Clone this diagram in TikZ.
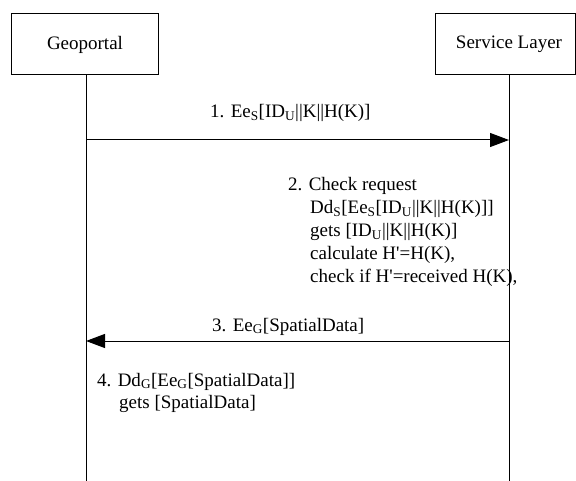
\documentclass[tikz,border=0pt]{standalone}
\usepackage{fontspec}
\setmainfont{Liberation Serif}
\usetikzlibrary{arrows.meta}
\newcommand{\sq}{\textquotesingle}
\tikzset{
  actor/.style={draw, line width=1pt, minimum height=61pt, inner sep=0pt, font=\fontsize{19pt}{23pt}\selectfont},
  lifeline/.style={line width=1pt},
  msg/.style={line width=1pt, -{Triangle[length=19pt,width=14pt]}},
  lbl/.style={anchor=base west, inner sep=0pt, font=\fontsize{19pt}{23pt}\selectfont}
}
\begin{document}
\begin{tikzpicture}[x=1pt,y=-1pt]
\useasboundingbox (0,0) rectangle (576,481);
\node[actor, minimum width=147pt] (geo) at (85,44.5) {Geoportal};
\node[actor, minimum width=140pt] (svc) at (505,44.5) {\hspace{8pt}Service Layer};
\coordinate (gtop) at (86,75);
\coordinate (gbot) at (86,481);
\coordinate (stop) at (509,75);
\coordinate (sbot) at (509,481);
\draw[lifeline] (gtop) -- (gbot);
\draw[lifeline] (stop) -- (sbot);
\coordinate (m1s) at (86,140);
\coordinate (m1e) at (509,140);
\draw[msg] (m1s) -- (m1e);
\coordinate (m3s) at (509,341);
\coordinate (m3e) at (86,341);
\draw[msg] (m3s) -- (m3e);
\node[lbl] (l1) at (210,118) {1. Ee\textsubscript{S}[ID\textsubscript{U}||K||H(K)]};
\node[lbl] (l2a) at (288,191) {2. Check request};
\node[lbl] (l2b) at (310,214) {Dd\textsubscript{S}[Ee\textsubscript{S}[ID\textsubscript{U}||K||H(K)]]};
\node[lbl] (l2c) at (310,237) {gets [ID\textsubscript{U}||K||H(K)]};
\node[lbl] (l2d) at (310,260) {calculate H\sq=H(K),};
\node[lbl] (l2e) at (310,283) {check if H\sq=received H(K),};
\node[lbl] (l3) at (212,331) {3. Ee\textsubscript{G}[SpatialData]};
\node[lbl] (l4a) at (97,386) {4. Dd\textsubscript{G}[Ee\textsubscript{G}[SpatialData]]};
\node[lbl] (l4b) at (119,408) {gets [SpatialData]};
\end{tikzpicture}
\end{document}
